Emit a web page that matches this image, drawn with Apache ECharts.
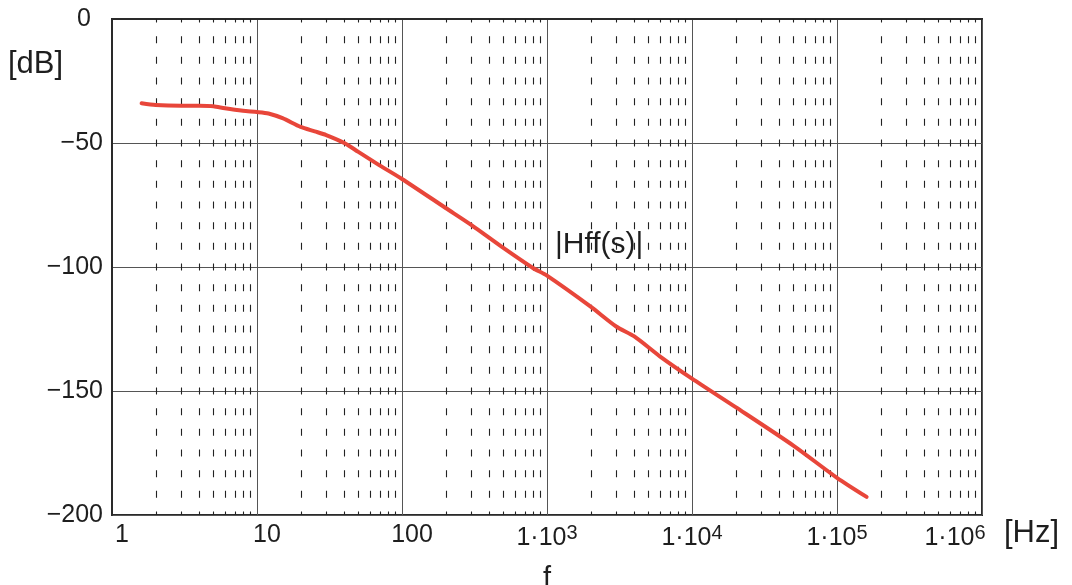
<!DOCTYPE html>
<html>
<head>
<meta charset="utf-8">
<script src="https://cdn.jsdelivr.net/npm/echarts@6/dist/echarts.min.js"></script>
<style>
  html, body { margin: 0; padding: 0; background: #fff; }
  #chart { width: 1072px; height: 585px; }
</style>
</head>
<body>
<div id="chart"></div>
<script>
// Frequency response |Hff(s)| in dB over frequency in Hz
const freqHz = [1.6, 2, 3, 4, 5, 6, 8, 10, 12, 15, 20, 25, 30, 40, 50, 70, 100,
                200, 300, 500, 800, 1000, 2000, 3000, 4000, 6000, 10000,
                20000, 50000, 100000, 160000];
const gainDb = [-34, -34.7, -35, -35, -35.2, -36, -37, -37.5, -38.1, -40, -43.5, -45.3, -46.8, -50, -53.6, -59, -64.5,
                -76.2, -83, -92.3, -100.4, -103.5, -116, -124, -128, -136, -145,
                -156.5, -172, -185, -192.7];

// Axis structure
const decades = [1, 10, 100, 1e3, 1e4, 1e5, 1e6];
const decadeLabels = ['1', '10', '100', '1·10|3', '1·10|4', '1·10|5', '1·10|6'];
const minorSteps = [2, 3, 4, 5, 6, 7, 8, 9];

const curve = freqHz.map((f, i) => [f, gainDb[i]]);
const minorValues = [];
decades.slice(0, -1).forEach(d => minorSteps.forEach(m => minorValues.push([d * m, -100])));

const TEXT = '#1e1e1e';
const FONT = '"Liberation Sans", Arial, sans-serif';

const chart = echarts.init(document.getElementById('chart'), null, { renderer: 'canvas' });

function xLabel(value) {
  const idx = decades.findIndex(d => Math.abs(Math.log10(d) - Math.log10(value)) < 1e-6);
  if (idx < 0) return '';
  const lab = decadeLabels[idx];
  if (lab.indexOf('|') < 0) return '{p|' + lab + '}';
  const parts = lab.split('|');
  const sup = idx === decades.length - 1 ? 'se' : 's';
  return '{b|' + parts[0] + '}{' + sup + '|' + parts[1] + '}';
}

chart.setOption({
  backgroundColor: '#ffffff',
  animation: false,
  grid: {
    left: 112, right: 90, top: 19, bottom: 70,
    outerBoundsMode: 'none',
    containLabel: false,
    show: true, borderColor: '#2a2a2a', borderWidth: 2, backgroundColor: 'transparent'
  },
  xAxis: {
    type: 'log',
    logBase: 10,
    min: 1,
    max: 1e6,
    splitNumber: 6,
    name: 'f',
    nameLocation: 'middle',
    nameGap: 49,
    nameTextStyle: { fontFamily: FONT, fontSize: 29, color: TEXT },
    axisLine: { show: true, lineStyle: { color: '#2a2a2a', width: 2 } },
    axisTick: { show: false },
    splitLine: { show: true, lineStyle: { color: '#555', width: 1 } },
    minorTick: { show: false },
    minorSplitLine: { show: false },
    axisLabel: {
      margin: 8,
      color: TEXT,
      fontFamily: FONT,
      fontSize: 25,
      showMinLabel: true,
      showMaxLabel: true,
      formatter: xLabel,
      rich: {
        p: { fontFamily: FONT, fontSize: 25, color: TEXT, padding: [0, 0, 0, 20] },
        b: { fontFamily: FONT, fontSize: 25, color: TEXT },
        s: { fontFamily: FONT, fontSize: 20, color: TEXT, verticalAlign: 'bottom', padding: [0, 0, 11, 0] },
        se: { fontFamily: FONT, fontSize: 20, color: TEXT, verticalAlign: 'bottom', padding: [0, 54, 11, 0] }
      }
    }
  },
  yAxis: {
    type: 'value',
    min: -200,
    max: 0,
    interval: 50,
    axisLine: { show: true, lineStyle: { color: '#2a2a2a', width: 2 } },
    axisTick: { show: false },
    splitLine: { show: true, lineStyle: { color: '#555', width: 1 } },
    axisLabel: {
      margin: 9,
      color: TEXT,
      fontFamily: FONT,
      fontSize: 25,
      formatter: v => (v === 0 ? '{z|0}' : '\u2212' + Math.abs(v)),
      rich: { z: { fontFamily: FONT, fontSize: 25, color: TEXT, padding: [0, 12, 0, 0] } }
    }
  },
  graphic: [
    { type: 'text', left: 8, top: 49,
      style: { text: '[dB]', fontFamily: FONT, fontSize: 31, fill: TEXT } },
    { type: 'text', left: 1004, top: 518,
      style: { text: '[Hz]', fontFamily: FONT, fontSize: 31, fill: TEXT } },
    { type: 'text', left: 555, top: 230,
      style: { text: '|Hff(s)|', fontFamily: FONT, fontSize: 30, fill: TEXT } }
  ],
  series: [
    {
      // dashed minor frequency grid at 2..9 of each decade
      type: 'custom',
      silent: true,
      data: minorValues,
      renderItem: function (params, api) {
        const x = Math.round(api.coord([api.value(0), 0])[0]) + 0.5;
        const cs = params.coordSys;
        const period = cs.height / 24;
        return {
          type: 'line',
          shape: { x1: x, y1: cs.y, x2: x, y2: cs.y + cs.height },
          style: { stroke: '#222', lineWidth: 1.1, lineDash: [7, period - 7], lineDashOffset: 3.5 }
        };
      },
      z: 1
    },
    {
      type: 'line',
      data: curve,
      symbol: 'none',
      smooth: 0.25,
      lineStyle: { color: '#e8463a', width: 4, cap: 'round', join: 'round' },
      z: 5
    }
  ]
});
</script>
</body>
</html>
